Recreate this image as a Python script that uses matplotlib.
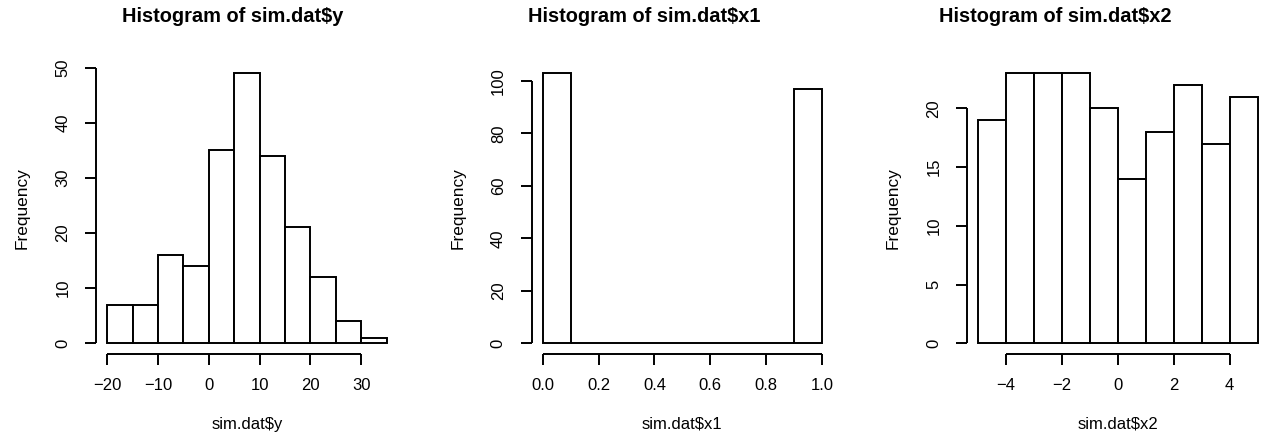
import numpy as np
import matplotlib
matplotlib.use("Agg")
import matplotlib.pyplot as plt
import matplotlib.transforms as mtransforms

plt.rcParams['font.family'] = ['Liberation Sans', 'DejaVu Sans']

# Histogram bin edges and counts for each variable
y_edges = [-20, -15, -10, -5, 0, 5, 10, 15, 20, 25, 30, 35]
y_counts = [7, 7, 16, 14, 35, 49, 34, 21, 12, 4, 1]

x1_edges = [0.0, 0.1, 0.2, 0.3, 0.4, 0.5, 0.6, 0.7, 0.8, 0.9, 1.0]
x1_counts = [103, 0, 0, 0, 0, 0, 0, 0, 0, 97]

x2_edges = [-5, -4, -3, -2, -1, 0, 1, 2, 3, 4, 5]
x2_counts = [19, 23, 23, 23, 20, 14, 18, 22, 17, 21]

# Axis ticks and labels
y_xticks = [-20, -10, 0, 10, 20, 30]
y_xlabels = ["\u221220", "\u221210", "0", "10", "20", "30"]
y_yticks = [0, 10, 20, 30, 40, 50]

x1_xticks = [0.0, 0.2, 0.4, 0.6, 0.8, 1.0]
x1_xlabels = ["0.0", "0.2", "0.4", "0.6", "0.8", "1.0"]
x1_yticks = [0, 20, 40, 60, 80, 100]

x2_xticks = [-4, -2, 0, 2, 4]
x2_xlabels = ["\u22124", "\u22122", "0", "2", "4"]
x2_yticks = [0, 5, 10, 15, 20]

panels = [
    ("sim.dat$y", y_edges, y_counts, y_xticks, y_xlabels, y_yticks),
    ("sim.dat$x1", x1_edges, x1_counts, x1_xticks, x1_xlabels, x1_yticks),
    ("sim.dat$x2", x2_edges, x2_counts, x2_xticks, x2_xlabels, x2_yticks),
]

W, H = 1261, 440
fig = plt.figure(figsize=(W / 100, H / 100), dpi=100)

lefts_px = [96.0, 531.5, 967.0]
title_centers_px = [233.0, 644.0, 1055.0]
width_px = 301.8
top_px, bottom_px = 62.3, 354.1
LW = 1.4
tick_len_pt = 11 * 72 / 100

for left_px, tc_px, (name, edges, counts, xt, xl, yt) in zip(
        lefts_px, title_centers_px, panels):
    ax = fig.add_axes([left_px / W, (H - bottom_px) / H,
                       width_px / W, (bottom_px - top_px) / H])
    edges = np.asarray(edges, dtype=float)
    counts = np.asarray(counts, dtype=float)
    ax.bar(edges[:-1], counts, width=np.diff(edges), align='edge',
           facecolor='white', edgecolor='black', linewidth=LW)

    # R-style 4% axis extension
    xr = edges[-1] - edges[0]
    ax.set_xlim(edges[0] - 0.04 * xr, edges[-1] + 0.04 * xr)
    ymax = counts.max()
    ax.set_ylim(-0.04 * ymax, ymax * 1.04)

    for s in ax.spines.values():
        s.set_visible(False)

    ax.set_xticks(xt)
    ax.set_xticklabels(xl)
    ax.set_yticks(yt)
    ax.set_yticklabels([str(v) for v in yt], rotation=90, va='center', ha='center')
    ax.tick_params(axis='both', direction='out', length=tick_len_pt, width=LW,
                   labelsize=12, colors='black')
    ax.tick_params(axis='x', pad=9)
    ax.tick_params(axis='y', pad=16)

    # Axis lines spanning first to last tick
    tx = mtransforms.blended_transform_factory(ax.transData, ax.transAxes)
    ax.plot([xt[0], xt[-1]], [0, 0], transform=tx, color='black',
            lw=LW, clip_on=False, solid_capstyle='butt')
    ty = mtransforms.blended_transform_factory(ax.transAxes, ax.transData)
    ax.plot([0, 0], [yt[0], yt[-1]], transform=ty, color='black',
            lw=LW, clip_on=False, solid_capstyle='butt')

    fig.text(tc_px / W, (H - 16) / H, "Histogram of " + name,
             ha='center', va='center', fontsize=14.4, fontweight='bold')
    ax_h = bottom_px - top_px
    ax.text(0.5, (bottom_px - 424) / ax_h, name, transform=ax.transAxes,
            ha='center', va='center', fontsize=12)
    ax.text((23 - 96.5) / width_px, 0.5, "Frequency", transform=ax.transAxes,
            ha='center', va='center', rotation=90, fontsize=12.4)

fig.savefig("out.png", dpi=100)
